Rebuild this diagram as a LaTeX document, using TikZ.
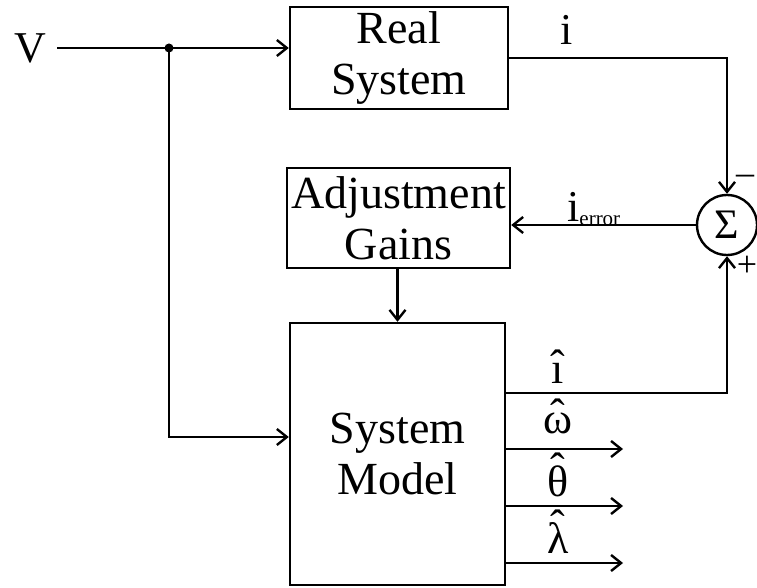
\documentclass[tikz,border=0pt]{standalone}
\usepackage{fontspec}
\setmainfont{Liberation Serif}
\usepackage{tikz}
\tikzset{every path/.append style={line width=2.4pt}}
\usetikzlibrary{positioning, calc, arrows.meta}
\tikzset{
  blk/.style={draw, align=center, inner sep=0pt, font=\fontsize{46}{51}\selectfont},
  lbl/.style={inner sep=0pt, font=\fontsize{44}{48}\selectfont},
  sgn/.style={inner sep=0pt, font=\fontsize{36}{38}\selectfont},
  sig/.style={-{Straight Barb[length=10pt,width=16pt,line width=2.4pt]}}
}
% letter with a circumflex set above it
\newcommand{\est}[2][0em]{\ooalign{#2\cr\hidewidth\raisebox{#1}{ˆ}\hidewidth\cr}}

\begin{document}
\begin{tikzpicture}[x=1pt,y=-1pt]
 \useasboundingbox (0,0) rectangle (757,588);
 % blocks
 \node[blk, minimum width=218pt, minimum height=102pt] (realsys) at (399,58) {Real\\System};
 \node[blk, minimum width=223pt, minimum height=100pt] (adjgain) at (398.5,218) {Adjustment\\Gains};
 \node[blk, minimum width=215pt, minimum height=262pt] (model) at (397.5,454) {System\\Model};
 \node[draw, circle, minimum size=60pt, inner sep=0pt, font=\fontsize{42}{44}\selectfont] (sum) at (727,225) {Σ};
 % input and branch
 \node[lbl] (vin) at (30,48) {V};
 \coordinate (vstart) at (57,48);
 \coordinate (tap) at (169,48);
 \coordinate (tapdown) at (169,437);
 \fill (tap) circle [radius=4.5pt];
 \draw[sig] (vstart) -- (tap) -- (tap -| realsys.west);
 \draw[sig] (tap) -- (tapdown) -- (tapdown -| model.west);
 % measured current
 \draw[sig] (realsys.east) -| (sum.north);
 \node[lbl] (lbli) at (567,30) {i};
 \node[sgn] (minus) at (745,180) {\textendash};
 % error feedback
 \draw[sig] (sum.west) -- (sum.west -| adjgain.east);
 \node[lbl, anchor=base west] (lblerr) at (566,222) {i\raisebox{-0.15ex}{\fontsize{21}{22}\selectfont error}};
 \draw[sig] (adjgain.south -| model.north) -- (model.north);
 % estimated current back to the sum
 \coordinate (ihat) at (727,393);
 \draw[sig] (ihat -| model.east) -- (ihat) -- (sum.south);
 \node[sgn] (plus) at (747,266) {+};
 % model outputs
 \coordinate (wout) at (623,449);
 \coordinate (thout) at (623,506);
 \coordinate (lamout) at (623,563);
 \draw[sig] (wout -| model.east) -- (wout);
 \draw[sig] (thout -| model.east) -- (thout);
 \draw[sig] (lamout -| model.east) -- (lamout);
 \node[lbl, anchor=base] (lblih) at (558,383) {\est[0.05em]{ı}};
 \node[lbl, anchor=base] (lblw) at (558,433) {\est[0.08em]{ω}};
 \node[lbl, anchor=base] (lblth) at (558,496) {\est[0.28em]{θ}};
 \node[lbl, anchor=base] (lbllam) at (558,553) {\est[0.28em]{λ}};
\end{tikzpicture}
\end{document}
